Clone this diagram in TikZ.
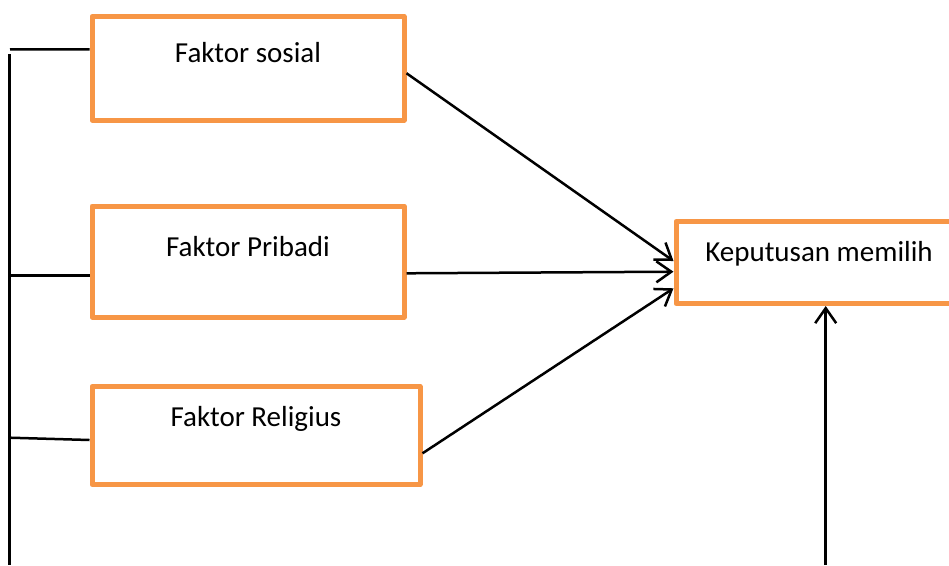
\documentclass[tikz,border=0pt]{standalone}
\usepackage{fontspec}
\setmainfont{Carlito}
\usetikzlibrary{arrows.meta}
\definecolor{boxorange}{HTML}{F79646}
\begin{document}
\begin{tikzpicture}[x=1pt, y=-1pt,
    faktor/.style={draw=boxorange, line width=5pt, line join=round, rectangle, inner sep=0pt, minimum height=0pt},
    link/.style={line width=2.5pt},
    arrow/.style={link, -{Straight Barb[length=15pt, width=21pt, line width=2.5pt]}},
    font=\fontsize{29}{35}\selectfont]
  \useasboundingbox (0,0) rectangle (949,565);
  \clip (0,0) rectangle (949,565);
  \node[faktor, minimum width=312pt, text height=45.8pt, text depth=57.7pt] (sosial) at (248, 68.25) {Faktor sosial};
  \node[faktor, minimum width=312pt, text height=50.7pt, text depth=60.3pt] (pribadi) at (248, 261.5) {Faktor Pribadi};
  \node[faktor, minimum width=328pt, text height=40.2pt, text depth=57.8pt] (religius) at (256, 435.5) {Faktor Religius};
  \node[faktor, minimum width=286pt, text height=39.5pt, text depth=42.5pt] (keputusan) at (819, 262.5) {Keputusan memilih};
  \coordinate (spineTop) at (9.5, 54);
  \coordinate (spineBottom) at (9.5, 565);
  \coordinate (toSosial) at (10, 49.3);
  \coordinate (toPribadi) at (10, 275.3);
  \coordinate (toReligius) at (10, 437.7);
  \coordinate (base) at (825.7, 565);
  \draw[link] (spineTop) -- (spineBottom);
  \draw[link] (toSosial) -- ([yshift=19pt]sosial.west);
  \draw[link] (toPribadi) -- ([yshift=-13.8pt]pribadi.west);
  \draw[link] (toReligius) -- ([yshift=-4.5pt]religius.west);
  \draw[arrow] ([yshift=-5pt]sosial.east) -- ([yshift=1.5pt]keputusan.west);
  \draw[arrow] ([yshift=-11.8pt]pribadi.east) -- ([yshift=-9.2pt]keputusan.west);
  \draw[arrow] ([yshift=-17.8pt]religius.east) -- ([yshift=-25.8pt]keputusan.west);
  \draw[arrow] (base) -- (base |- keputusan.south);
\end{tikzpicture}
\end{document}
